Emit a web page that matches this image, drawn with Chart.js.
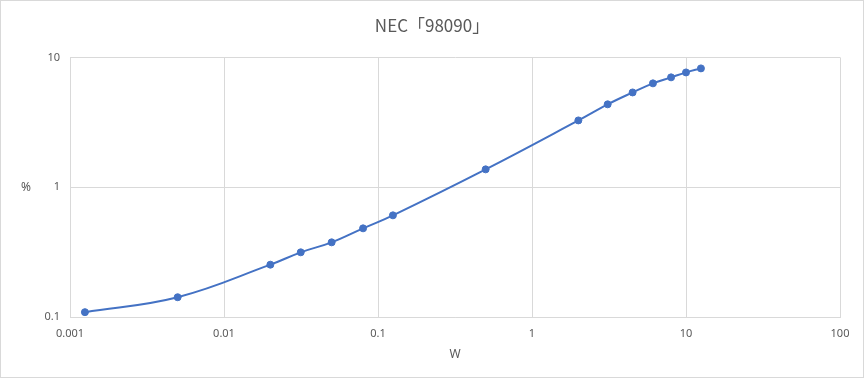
<!DOCTYPE html>
<html>
<head>
<meta charset="utf-8">
<script src="https://cdn.jsdelivr.net/npm/chart.js@4"></script>
<style>
    body { margin: 0; background: #fff; }
    #wrap { width: 864px; height: 378px; box-sizing: border-box; border: 1px solid #d9d9d9; }
    canvas { display: block; }
</style>
</head>
<body>
<div id="wrap"><canvas id="chart" width="862" height="376"></canvas></div>
<script>
// Daten
const watts = [0.00125, 0.005, 0.02, 0.0315, 0.05, 0.08, 0.125, 0.5, 2, 3.1, 4.5, 6.1, 8, 10, 12.5];
const percent = [0.109, 0.142, 0.253, 0.315, 0.376, 0.482, 0.607, 1.372, 3.27, 4.35, 5.37, 6.31, 7.02, 7.66, 8.23];
const xTicks = [0.001, 0.01, 0.1, 1, 10, 100];
const yTicks = [0.1, 1, 10];

const titleText = 'NEC「98090」';
const xTitle = 'W';
const yTitle = '%';

const lineColor = '#4472C4';
const textColor = '#595959';
const gridColor = '#d9d9d9';

const points = watts.map((w, i) => ({ x: w, y: percent[i] }));

// y-Achsentitel horizontal zeichnen
const yTitlePlugin = {
    id: 'yTitle',
    afterDraw(chart) {
        const ctx = chart.ctx;
        const area = chart.chartArea;
        ctx.save();
        ctx.fillStyle = textColor;
        ctx.font = '12px "Noto Sans"';
        ctx.textAlign = 'center';
        ctx.textBaseline = 'middle';
        ctx.fillText(yTitle, 25, (area.top + area.bottom) / 2);
        ctx.restore();
    }
};

new Chart(document.getElementById('chart'), {
    type: 'scatter',
    data: {
        datasets: [{
            data: points,
            showLine: true,
            borderColor: lineColor,
            backgroundColor: lineColor,
            borderWidth: 2,
            pointRadius: 3.5,
            pointBorderWidth: 1,
            tension: 0.4,
            cubicInterpolationMode: 'default'
        }]
    },
    options: {
        responsive: false,
        animation: false,
        layout: { padding: { left: 23, right: 23, top: 0, bottom: 15 } },
        plugins: {
            legend: { display: false },
            tooltip: { enabled: false },
            title: {
                display: true,
                text: titleText,
                color: textColor,
                font: { family: '"Noto Sans CJK JP"', size: 17, weight: 'normal' },
                padding: { top: 14, bottom: 22 }
            }
        },
        scales: {
            x: {
                type: 'logarithmic',
                min: 0.001,
                max: 100,
                afterBuildTicks(scale) {
                    scale.ticks = xTicks.map(v => ({ value: v }));
                },
                afterFit(scale) { scale.height = 45; },
                ticks: {
                    color: textColor,
                    font: { family: '"Noto Sans"', size: 11 },
                    padding: 10,
                    maxRotation: 0,
                    callback: v => String(v)
                },
                grid: { color: gridColor, drawTicks: false },
                border: { color: gridColor },
                title: {
                    display: true,
                    text: xTitle,
                    color: textColor,
                    font: { family: '"Noto Sans"', size: 12 },
                    padding: { top: 4, bottom: 0 }
                }
            },
            y: {
                type: 'logarithmic',
                min: 0.1,
                max: 10,
                afterBuildTicks(scale) {
                    scale.ticks = yTicks.map(v => ({ value: v }));
                },
                afterFit(scale) { scale.width = 46; },
                ticks: {
                    color: textColor,
                    font: { family: '"Noto Sans"', size: 11 },
                    padding: 10,
                    callback: v => String(v)
                },
                grid: { color: gridColor, drawTicks: false },
                border: { color: gridColor }
            }
        }
    },
    plugins: [yTitlePlugin]
});
</script>
</body>
</html>
